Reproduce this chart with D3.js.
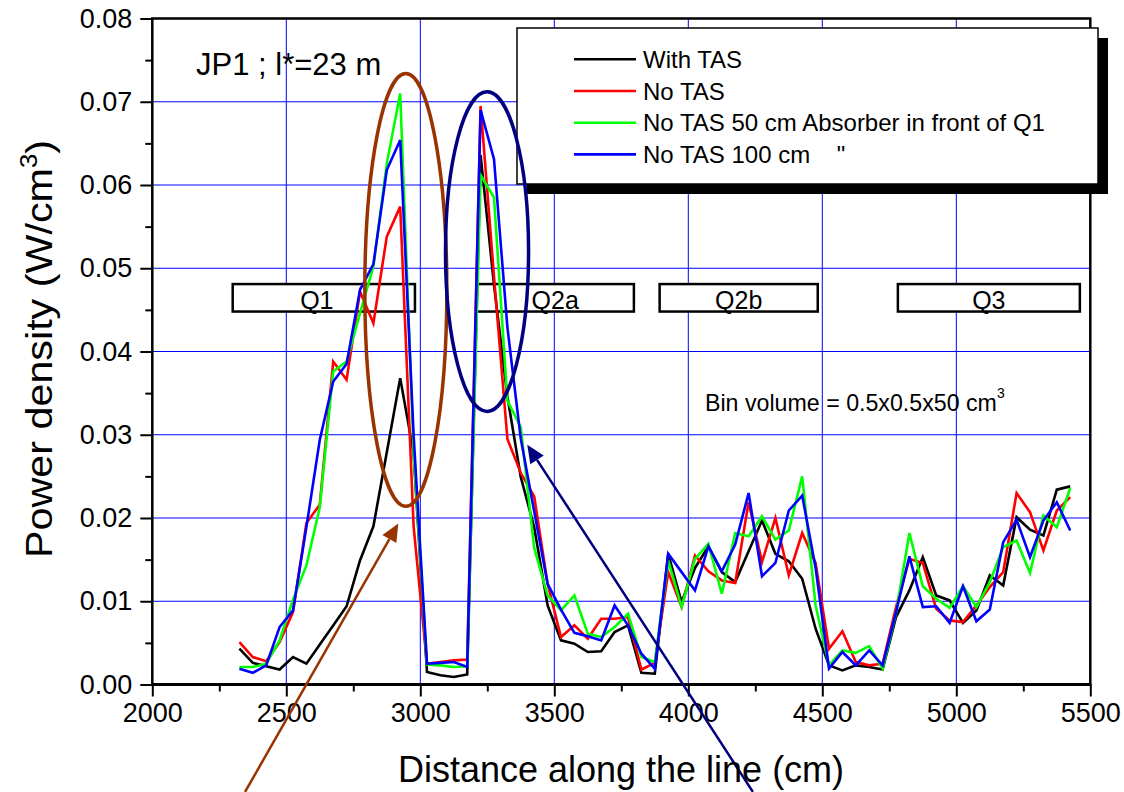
<!DOCTYPE html>
<html><head><meta charset="utf-8">
<script src="https://cdn.jsdelivr.net/npm/d3@7"></script>
<style>
body{margin:0;background:#fff}
svg{display:block}
text{font-family:"Liberation Sans",Arial,sans-serif;fill:#000}
</style>
</head><body>
<svg id="chart" width="1124" height="792"></svg>
<script>
// ---------------- data ----------------
const binCentre = [2325,2375,2425,2475,2525,2575,2625,2675,2725,2775,2825,2875,2925,2975,3025,3075,3125,3175,3225,3275,3325,3375,3425,3475,3525,3575,3625,3675,3725,3775,3825,3875,3925,3975,4025,4075,4125,4175,4225,4275,4325,4375,4425,4475,4525,4575,4625,4675,4725,4775,4825,4875,4925,4975,5025,5075,5125,5175,5225,5275,5325,5375,5425];

const withTAS = [0.0043,0.0026,0.0022,0.0018,0.0033,0.0025,0.0048,0.0071,0.0094,0.0149,
0.0190,0.0279,0.0368,0.0278,0.0015,0.0011,0.0009,0.0012,0.0636,0.0480,
0.0346,0.0249,0.0189,0.0095,0.0053,0.0049,0.0039,0.0040,0.0063,0.0071,
0.0014,0.0013,0.0157,0.0099,0.0140,0.0166,0.0135,0.0123,0.0160,0.0197,
0.0157,0.0148,0.0127,0.0067,0.0023,0.0017,0.0023,0.0021,0.0018,0.0081,
0.0113,0.0153,0.0107,0.0101,0.0074,0.0089,0.0131,0.0119,0.0201,0.0186,
0.0179,0.0234,0.0238];

const noTAS = [0.0051,0.0033,0.0028,0.0051,0.0087,0.0194,0.0216,0.0388,0.0366,0.0472,
0.0434,0.0538,0.0574,0.0190,0.0025,0.0027,0.0029,0.0030,0.0695,0.0490,
0.0295,0.0254,0.0226,0.0121,0.0057,0.0071,0.0055,0.0079,0.0079,0.0081,
0.0018,0.0026,0.0135,0.0093,0.0155,0.0136,0.0125,0.0122,0.0219,0.0147,
0.0200,0.0131,0.0182,0.0146,0.0043,0.0064,0.0027,0.0023,0.0025,0.0093,
0.0151,0.0146,0.0091,0.0077,0.0075,0.0095,0.0117,0.0135,0.0230,0.0207,
0.0161,0.0209,0.0225];

const absorber50 = [0.0021,0.0021,0.0025,0.0053,0.0102,0.0143,0.0213,0.0376,0.0388,0.0446,
0.0502,0.0626,0.0710,0.0280,0.0024,0.0023,0.0021,0.0022,0.0612,0.0585,
0.0341,0.0309,0.0164,0.0107,0.0089,0.0107,0.0061,0.0057,0.0069,0.0085,
0.0033,0.0027,0.0149,0.0093,0.0151,0.0169,0.0109,0.0182,0.0178,0.0202,
0.0174,0.0185,0.0250,0.0095,0.0023,0.0041,0.0038,0.0046,0.0019,0.0086,
0.0182,0.0118,0.0103,0.0092,0.0118,0.0093,0.0123,0.0165,0.0173,0.0134,
0.0203,0.0189,0.0236];

const absorber100 = [0.0019,0.0014,0.0023,0.0069,0.0089,0.0189,0.0294,0.0364,0.0385,0.0474,
0.0505,0.0618,0.0654,0.0300,0.0025,0.0026,0.0027,0.0021,0.0690,0.0631,
0.0429,0.0295,0.0208,0.0121,0.0090,0.0062,0.0058,0.0053,0.0095,0.0071,
0.0037,0.0019,0.0157,0.0135,0.0113,0.0166,0.0136,0.0168,0.0230,0.0130,
0.0146,0.0209,0.0227,0.0140,0.0019,0.0039,0.0023,0.0041,0.0023,0.0087,
0.0154,0.0093,0.0094,0.0074,0.0118,0.0076,0.0090,0.0171,0.0198,0.0153,
0.0197,0.0219,0.0185];

const seriesNames = ["With TAS", "No TAS", "No TAS 50 cm Absorber in front of Q1", "No TAS 100 cm    \""];
const xMajorTicks = [2000,2500,3000,3500,4000,4500,5000,5500];
const xMinorTicks = [2250,2750,3250,3750,4250,4750,5250];
const yMajorTicks = [0,0.01,0.02,0.03,0.04,0.05,0.06,0.07,0.08];
const yMinorTicks = [0.005,0.015,0.025,0.035,0.045,0.055,0.065,0.075];
const magnetNames = ["Q1","Q2a","Q2b","Q3"];
const magnetStart = [2300,3210,3893,4782];
const magnetEnd   = [2980,3797,4483,5461];

// ---------------- style ----------------
const colours = ["#000000","#ff0000","#00ff00","#0000ff"];
const seriesData = [withTAS, noTAS, absorber50, absorber100];

const svg = d3.select("#chart");
const x = d3.scaleLinear().domain([2000,5500]).range([152.3,1090.3]);
const y = d3.scaleLinear().domain([0,0.08]).range([684.5,18.5]);

// grid
const grid = svg.append("g").attr("stroke","#0000ff").attr("stroke-width",1);
grid.selectAll(".gx").data(xMajorTicks.slice(1,-1)).join("line")
  .attr("x1",d=>x(d)).attr("x2",d=>x(d)).attr("y1",y(0)).attr("y2",y(0.08));
grid.selectAll(".gy").data(yMajorTicks.slice(1,-1)).join("line")
  .attr("y1",d=>y(d)).attr("y2",d=>y(d)).attr("x1",x(2000)).attr("x2",x(5500));

// magnet boxes
const mag = svg.append("g");
magnetNames.forEach((m,i)=>{
  mag.append("rect").attr("x",x(magnetStart[i])).attr("width",x(magnetEnd[i])-x(magnetStart[i]))
    .attr("y",y(0.0481)).attr("height",y(0.0448)-y(0.0481))
    .attr("fill","#fff").attr("stroke","#000").attr("stroke-width",2.5);
  mag.append("text").attr("x",(x(magnetStart[i])+x(magnetEnd[i]))/2 - (i===0?7:0)).attr("y",y(0.0451))
    .attr("text-anchor","middle").attr("font-size",25).text(m);
});

// series
const line = d3.line().x((d,i)=>x(binCentre[i])).y(d=>y(d));
seriesData.forEach((s,i)=>{
  svg.append("path").datum(s).attr("d",line).attr("fill","none")
    .attr("stroke",colours[i]).attr("stroke-width",2.6).attr("stroke-linejoin","miter");
});

// axes
const fmt = d3.format(".2f");
const axB = svg.append("g").attr("transform",`translate(0,${y(0)})`)
  .call(d3.axisBottom(x).tickValues(xMajorTicks).tickSize(12).tickPadding(6).tickFormat(d3.format("d")));
const axBm = svg.append("g").attr("transform",`translate(0,${y(0)})`)
  .call(d3.axisBottom(x).tickValues(xMinorTicks).tickSize(7).tickFormat(""));
const axL = svg.append("g").attr("transform",`translate(${x(2000)},0)`)
  .call(d3.axisLeft(y).tickValues(yMajorTicks).tickSize(12).tickPadding(8).tickFormat(fmt));
const axLm = svg.append("g").attr("transform",`translate(${x(2000)},0)`)
  .call(d3.axisLeft(y).tickValues(yMinorTicks).tickSize(7).tickFormat(""));
[axB,axBm,axL,axLm].forEach(a=>{
  a.select(".domain").remove();
  a.selectAll(".tick line").attr("stroke","#000").attr("stroke-width",2);
  a.selectAll("text").attr("font-size",27).attr("font-family","'Liberation Sans',Arial,sans-serif").attr("fill","#000");
});
// frame
svg.append("rect").attr("x",x(2000)).attr("y",y(0.08)).attr("width",x(5500)-x(2000)).attr("height",y(0)-y(0.08))
  .attr("fill","none").attr("stroke","#000").attr("stroke-width",2.5);
svg.append("line").attr("x1",x(2000)-1).attr("x2",x(5500)+1).attr("y1",y(0)).attr("y2",y(0)).attr("stroke","#000").attr("stroke-width",3.2);

// legend
const lg = svg.append("g");
lg.append("rect").attr("x",527).attr("y",38).attr("width",581).attr("height",156).attr("fill","#000");
lg.append("rect").attr("x",517).attr("y",28).attr("width",581).attr("height",156).attr("fill","#fff").attr("stroke","#000").attr("stroke-width",1.5);
seriesNames.forEach((n,i)=>{
  const cy = 59.3 + i*31.7;
  lg.append("line").attr("x1",574).attr("x2",636).attr("y1",cy).attr("y2",cy).attr("stroke",colours[i]).attr("stroke-width",2.6);
  lg.append("text").attr("x",643).attr("y",cy+8.5).attr("font-size",24).attr("xml:space","preserve").style("white-space","pre").text(n);
});

// annotations
const ann = svg.append("g");
ann.append("ellipse").attr("cx",x(2946)).attr("cy",y(0.0474)).attr("rx",x(2946+153)-x(2946)).attr("ry",y(0)-y(0.026))
  .attr("fill","none").attr("stroke","#993300").attr("stroke-width",3.5);
ann.append("ellipse").attr("cx",x(3249)).attr("cy",y(0.052)).attr("rx",x(3249+155)-x(3249)).attr("ry",y(0)-y(0.0192))
  .attr("fill","none").attr("stroke","#000080").attr("stroke-width",3.5);

function arrow(x1,y1,x2,y2,col){
  const ang = Math.atan2(y2-y1,x2-x1), L=18, W=8;
  const bx = x2 - L*Math.cos(ang), by = y2 - L*Math.sin(ang);
  ann.append("line").attr("x1",x1).attr("y1",y1).attr("x2",bx).attr("y2",by).attr("stroke",col).attr("stroke-width",2.5);
  ann.append("path").attr("d",`M${x2},${y2}L${bx+W*Math.sin(ang)},${by-W*Math.cos(ang)}L${bx-W*Math.sin(ang)},${by+W*Math.cos(ang)}Z`).attr("fill",col);
}
arrow(x(2346),y(-0.0129),x(2918),y(0.01935),"#993300");
arrow(x(4241),y(-0.0129),x(3399),y(0.0288),"#000080");

// texts
svg.append("text").attr("x",196).attr("y",75).attr("font-size",31).text("JP1 ; l*=23 m");
const bv = svg.append("text").attr("x",705).attr("y",411).attr("font-size",23.2).text("Bin volume = 0.5x0.5x50 cm");
bv.append("tspan").attr("dy",-13).attr("font-size",14).text("3");

svg.append("text").attr("x",621).attr("y",782).attr("text-anchor","middle").attr("font-size",36).text("Distance along the line (cm)");
const yt = svg.append("text").attr("text-anchor","middle").attr("font-size",37);
yt.append("tspan").text("Power density (W/cm");
yt.append("tspan").attr("dy",-15).attr("font-size",23).text("3");
yt.append("tspan").attr("dy",15).text(")");
const ytw = yt.node().getComputedTextLength();
const ysx = 418/ytw;
yt.attr("transform",`translate(52,349) rotate(-90) scale(${ysx},1)`);
</script>
</body></html>
